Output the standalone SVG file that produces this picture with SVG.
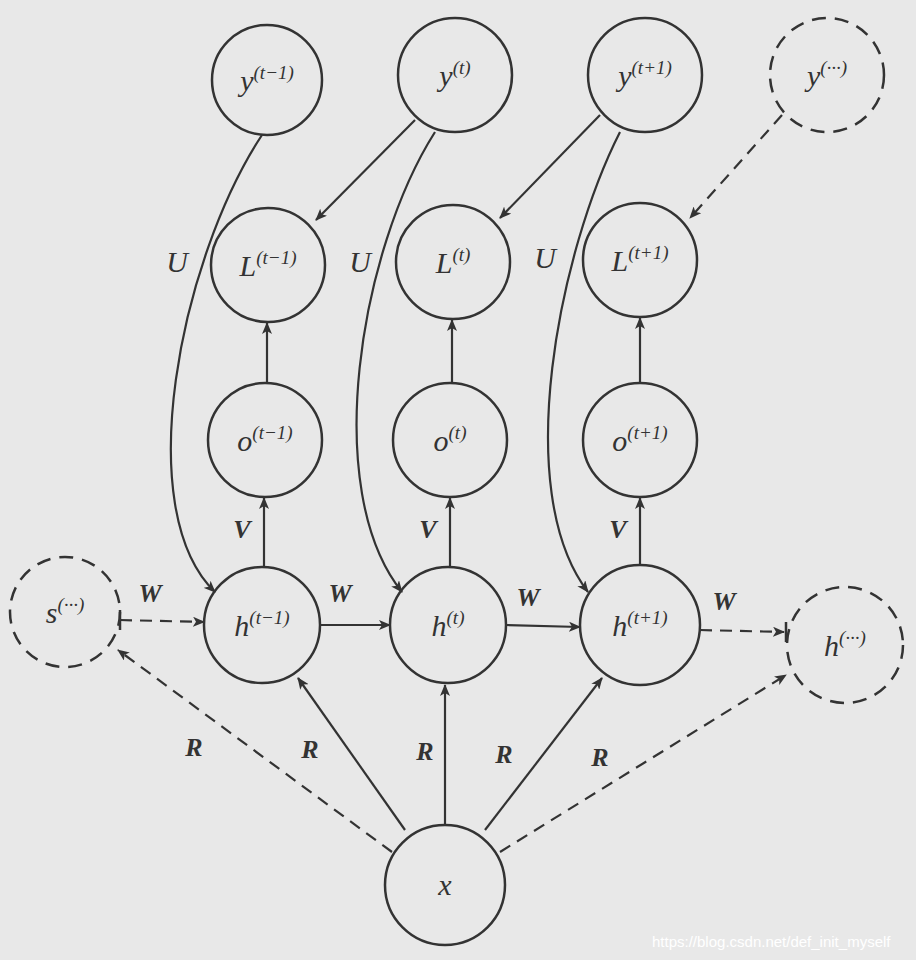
<svg xmlns="http://www.w3.org/2000/svg" width="916" height="960" viewBox="0 0 916 960">
<style>
.n{fill:none;stroke:#333;stroke-width:2.5}
.d{fill:none;stroke:#333;stroke-width:2.5;stroke-dasharray:14 9}
.t{font-family:"Liberation Serif",serif;font-style:italic;font-size:30px;fill:#333;text-anchor:middle}
.b{font-family:"Liberation Serif",serif;font-style:italic;font-weight:bold;font-size:26px;fill:#333;text-anchor:middle}
.e{fill:none;stroke:#333;stroke-width:2.2;marker-end:url(#a)}
.ed{fill:none;stroke:#333;stroke-width:2.2;stroke-dasharray:12 8;marker-end:url(#a)}
.s{font-size:19px}
</style>
<defs>
<marker id="a" viewBox="0 0 12 10" refX="11" refY="5" markerWidth="12" markerHeight="10" markerUnits="userSpaceOnUse" orient="auto"><path d="M0,0 L12,5 L0,10 L3,5 Z" fill="#333"/></marker>
</defs>
<rect width="916" height="960" fill="#e8e8e8"/>
<g id="connectors">
<path class="e" d="M415,120 L316,220"/>
<path class="e" d="M600,115 L500,218"/>
<path class="ed" d="M782,115 L690,218"/>
<path class="e" d="M262,135 C180,260 130,510 215,592"/>
<path class="e" d="M435,132 C360,250 320,490 402,592"/>
<path class="e" d="M620,132 C560,250 510,490 588,592"/>
<path class="e" d="M267,383 L267,323"/>
<path class="e" d="M452,383 L452,320"/>
<path class="e" d="M640,383 L640,318"/>
<path class="e" d="M264,567 L264,498"/>
<path class="e" d="M450,567 L450,498"/>
<path class="e" d="M640,565 L640,498"/>
<path class="e" d="M320,625 L390,625"/>
<path class="e" d="M506,625 L580,627"/>
<path class="ed" d="M120,620 L204,622"/><path d="M120,610 L120,630" stroke="#333" stroke-width="2.5"/>
<path class="ed" d="M700,630 L784,632"/><path d="M786,622 L786,642" stroke="#333" stroke-width="2.5"/>
<path class="e" d="M405,830 L298,678"/>
<path class="e" d="M445,825 L445,685"/>
<path class="e" d="M485,830 L602,678"/>
<path class="ed" d="M392,852 L118,650"/>
<path class="ed" d="M500,852 L786,675"/>
</g>
<g id="y_tm1"><circle class="n" cx="267" cy="80" r="55"/><text class="t" x="267" y="91">y<tspan class="s" dy="-12">(t−1)</tspan></text></g>
<g id="y_t"><circle class="n" cx="455" cy="75" r="57"/><text class="t" x="455" y="86">y<tspan class="s" dy="-12">(t)</tspan></text></g>
<g id="y_tp1"><circle class="n" cx="645" cy="75" r="57"/><text class="t" x="645" y="86">y<tspan class="s" dy="-12">(t+1)</tspan></text></g>
<g id="y_dots"><circle class="d" cx="827" cy="75" r="57"/><text class="t" x="827" y="86">y<tspan class="s" dy="-12">(···)</tspan></text></g>
<g id="L_tm1"><circle class="n" cx="268" cy="265" r="57"/><text class="t" x="268" y="276">L<tspan class="s" dy="-12">(t−1)</tspan></text></g>
<g id="L_t"><circle class="n" cx="453" cy="262" r="57"/><text class="t" x="453" y="273">L<tspan class="s" dy="-12">(t)</tspan></text></g>
<g id="L_tp1"><circle class="n" cx="640" cy="260" r="57"/><text class="t" x="640" y="271">L<tspan class="s" dy="-12">(t+1)</tspan></text></g>
<g id="o_tm1"><circle class="n" cx="265" cy="440" r="57"/><text class="t" x="265" y="451">o<tspan class="s" dy="-12">(t−1)</tspan></text></g>
<g id="o_t"><circle class="n" cx="450" cy="440" r="57"/><text class="t" x="450" y="451">o<tspan class="s" dy="-12">(t)</tspan></text></g>
<g id="o_tp1"><circle class="n" cx="640" cy="440" r="57"/><text class="t" x="640" y="451">o<tspan class="s" dy="-12">(t+1)</tspan></text></g>
<g id="h_tm1"><circle class="n" cx="262" cy="625" r="58"/><text class="t" x="262" y="636">h<tspan class="s" dy="-12">(t−1)</tspan></text></g>
<g id="h_t"><circle class="n" cx="448" cy="625" r="58"/><text class="t" x="448" y="636">h<tspan class="s" dy="-12">(t)</tspan></text></g>
<g id="h_tp1"><circle class="n" cx="640" cy="625" r="60"/><text class="t" x="640" y="636">h<tspan class="s" dy="-12">(t+1)</tspan></text></g>
<g id="s_dots"><circle class="d" cx="65" cy="612" r="55"/><text class="t" x="65" y="623">s<tspan class="s" dy="-12">(···)</tspan></text></g>
<g id="h_dots"><circle class="d" cx="845" cy="645" r="58"/><text class="t" x="845" y="656">h<tspan class="s" dy="-12">(···)</tspan></text></g>
<g id="x"><circle class="n" cx="445" cy="885" r="60"/><text class="t" x="445" y="895">x</text></g>
<g id="labels">
<text class="t" x="177" y="272">U</text><text class="t" x="360" y="272">U</text><text class="t" x="545" y="268">U</text>
<text class="b" x="150" y="602">W</text><text class="b" x="340" y="602">W</text><text class="b" x="528" y="606">W</text><text class="b" x="724" y="610">W</text>
<text class="b" x="242" y="538">V</text><text class="b" x="428" y="538">V</text><text class="b" x="618" y="538">V</text>
<text class="b" x="194" y="756">R</text><text class="b" x="310" y="758">R</text><text class="b" x="425" y="760">R</text><text class="b" x="504" y="763">R</text><text class="b" x="600" y="766">R</text>
</g>
<text x="652" y="947" font-family="Liberation Sans,sans-serif" font-size="15" fill="#fff">https://blog.csdn.net/def_init_myself</text>
</svg>
